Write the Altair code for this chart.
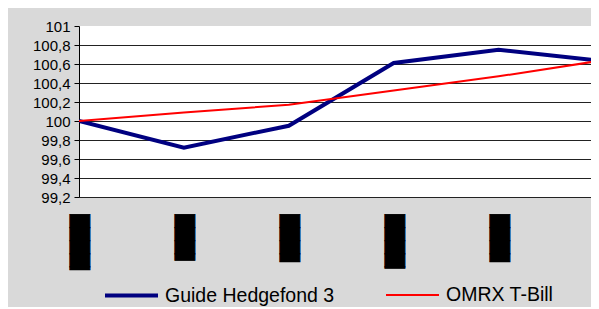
import altair as alt
import pandas as pd

periods = [0, 1, 2, 3, 4, 5]
period_labels = ["████▎", "███▌", "███▋", "████▏", "███▋", "████"]
guide = [100.0, 99.72, 99.95, 100.61, 100.75, 100.63]
omrx = [100.0, 100.09, 100.17, 100.32, 100.47, 100.64]
series_names = ["Guide Hedgefond 3", "OMRX T-Bill"]
y_ticks = [99.2, 99.4, 99.6, 99.8, 100.0, 100.2, 100.4, 100.6, 100.8, 101.0]

rows = []
for i, p in enumerate(periods):
    rows.append({"period": p, "series": series_names[0], "value": guide[i]})
    rows.append({"period": p, "series": series_names[1], "value": omrx[i]})
df = pd.DataFrame(rows)
lab = pd.DataFrame({"period": periods, "label": period_labels})

x_scale = alt.Scale(domain=[0, 4.881], nice=False, zero=False)
y_scale = alt.Scale(domain=[99.2, 101], nice=False, zero=False)

leg = alt.Legend(
    title=None, orient="none", legendX=24, legendY=241, direction="horizontal",
    columns=2, columnPadding=47, symbolType="stroke", symbolSize=2809,
    labelFont="Liberation Sans", labelFontSize=19.5, labelColor="black",
    labelOffset=5, padding=0, labelLimit=400,
)

lines = alt.Chart(df).mark_line(clip=True).encode(
    x=alt.X("period:Q", scale=x_scale,
            axis=alt.Axis(values=[0, 1, 2, 3, 4], labels=False, grid=False, ticks=True,
                          tickSize=6, tickColor="#555555", domainColor="black", title=None)),
    y=alt.Y("value:Q", scale=y_scale,
            axis=alt.Axis(values=y_ticks,
                          labelExpr="replace(format(datum.value, '.1~f'), '.', ',')",
                          title=None, grid=True,
                          gridColor={"condition": {"test": "datum.value >= 100.99", "value": "white"}, "value": "#222222"},
                          tickSize=5, tickColor="black", domainColor="black",
                          labelFont="Liberation Sans", labelFontSize=15, labelColor="black",
                          labelPadding=4)),
    color=alt.Color("series:N", scale=alt.Scale(domain=series_names, range=["#000080", "#ff0000"]), legend=leg),
    strokeWidth=alt.StrokeWidth("series:N", scale=alt.Scale(domain=series_names, range=[4, 2]), legend=leg),
)

blocks = alt.Chart(lab).mark_text(
    angle=90, align="left", baseline="middle", font="DejaVu Sans", fontSize=17,
    color="black", stroke="black", strokeWidth=0.8
).encode(
    x=alt.X("period:Q", scale=x_scale, axis=None),
    y=alt.value(188.5),
    text="label:N",
)

chart = alt.layer(lines, blocks).properties(
    width=512, height=171,
    autosize=alt.AutoSizeParams(type="none"),
    padding={"left": 71, "top": 18, "right": 0, "bottom": 110},
    background="#d9d9d9",
).configure_view(fill="white", stroke=None)

chart.save("out.html", embed_options={"renderer": "svg", "actions": False})
